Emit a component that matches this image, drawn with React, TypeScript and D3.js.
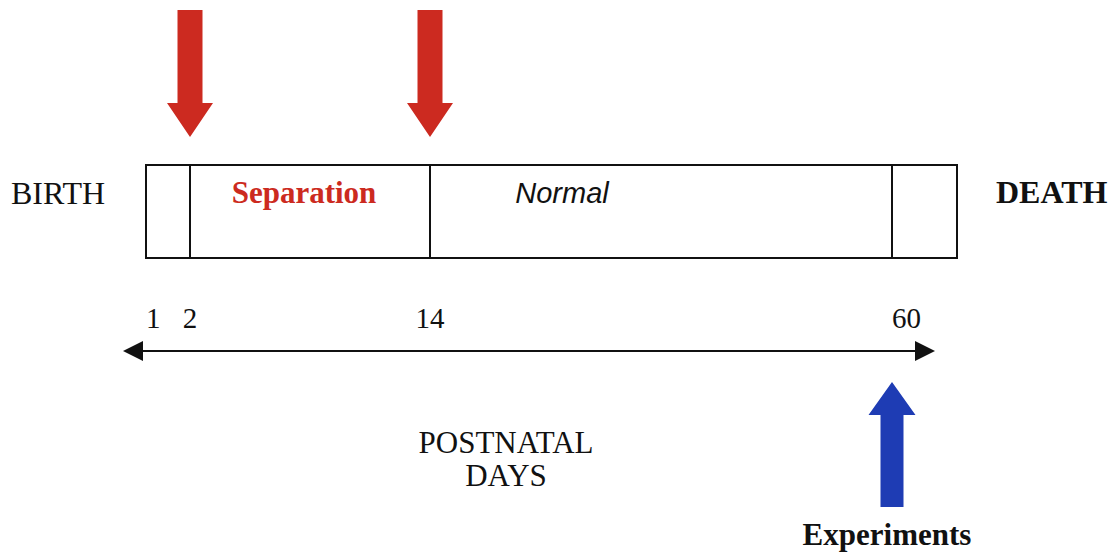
import React, { useEffect, useRef } from "react";
import * as d3 from "d3";

// Timeline data
const dayTicks = [1, 2, 14, 60];
const boxBreaks = [1, 2, 14, 60, 62];
const separationArrows = [2, 14];
const experimentDay = 60;
const phaseLabels = [
  { from: 2, to: 14, text: "Separation" },
  { from: 14, to: 60, text: "Normal" },
];

const W = 1119;
const H = 557;
const RED = "#cc2a20";
const BLUE = "#1e3cb4";
const SERIF = "'Liberation Serif', 'Times New Roman', serif";
const SANS = "'Liberation Sans', Arial, sans-serif";

export default function App() {
  const ref = useRef<SVGSVGElement | null>(null);

  useEffect(() => {
    document.body.style.margin = "0";
    const svg = d3.select(ref.current);
    svg.selectAll("*").remove();

    const x = d3.scaleLinear().domain(boxBreaks).range([146, 190, 430, 892, 957]);
    const boxTop = 165;
    const boxBottom = 258;

    // box
    svg
      .append("rect")
      .attr("x", x(boxBreaks[0]))
      .attr("y", boxTop)
      .attr("width", x(boxBreaks[boxBreaks.length - 1]) - x(boxBreaks[0]))
      .attr("height", boxBottom - boxTop)
      .attr("fill", "none")
      .attr("stroke", "#111")
      .attr("stroke-width", 2);
    svg
      .selectAll("line.div")
      .data(boxBreaks.slice(1, -1))
      .join("line")
      .attr("x1", (d) => x(d))
      .attr("x2", (d) => x(d))
      .attr("y1", boxTop)
      .attr("y2", boxBottom)
      .attr("stroke", "#111")
      .attr("stroke-width", 2);

    // phase labels
    svg
      .append("text")
      .attr("x", 304)
      .attr("y", 203)
      .attr("text-anchor", "middle")
      .attr("font-family", SERIF)
      .attr("font-weight", "bold")
      .attr("font-size", 31)
      .attr("fill", RED)
      .text(phaseLabels[0].text);
    svg
      .append("text")
      .attr("x", 562)
      .attr("y", 203)
      .attr("text-anchor", "middle")
      .attr("font-family", SANS)
      .attr("font-style", "italic")
      .attr("font-size", 29)
      .attr("fill", "#111")
      .text(phaseLabels[1].text);

    // BIRTH / DEATH
    svg
      .append("text")
      .attr("x", 11)
      .attr("y", 204)
      .attr("font-family", SERIF)
      .attr("font-size", 32)
      .attr("fill", "#111")
      .text("BIRTH");
    svg
      .append("text")
      .attr("x", 996)
      .attr("y", 203)
      .attr("font-family", SERIF)
      .attr("font-weight", "bold")
      .attr("font-size", 32)
      .attr("fill", "#111")
      .text("DEATH");

    // red arrows (down)
    const shaftW = 25;
    const headW = 46;
    const headL = 34;
    const downArrow = (cx: number, top: number, tip: number) =>
      [
        [cx - shaftW / 2, top],
        [cx + shaftW / 2, top],
        [cx + shaftW / 2, tip - headL],
        [cx + headW / 2, tip - headL],
        [cx, tip],
        [cx - headW / 2, tip - headL],
        [cx - shaftW / 2, tip - headL],
      ];
    svg
      .selectAll("polygon.red")
      .data(separationArrows)
      .join("polygon")
      .attr("points", (d) => downArrow(x(d), 10, 137).map((p) => p.join(",")).join(" "))
      .attr("fill", RED);

    // day ticks labels
    svg
      .selectAll("text.tick")
      .data(dayTicks)
      .join("text")
      .attr("x", (d) => x(d))
      .attr("y", 328)
      .attr("text-anchor", (d, i) => (i === 0 || i === dayTicks.length - 1 ? "start" : "middle"))
      .attr("font-family", SERIF)
      .attr("font-size", 29)
      .attr("fill", "#111")
      .text((d) => String(d));

    // double-headed axis arrow
    const ay = 351;
    const left = 123;
    const right = 935;
    const hl = 20;
    const hw = 10;
    svg
      .append("line")
      .attr("x1", left + hl - 2)
      .attr("x2", right - hl + 2)
      .attr("y1", ay)
      .attr("y2", ay)
      .attr("stroke", "#111")
      .attr("stroke-width", 2);
    svg
      .append("polygon")
      .attr("points", `${left},${ay} ${left + hl},${ay - hw} ${left + hl},${ay + hw}`)
      .attr("fill", "#111");
    svg
      .append("polygon")
      .attr("points", `${right},${ay} ${right - hl},${ay - hw} ${right - hl},${ay + hw}`)
      .attr("fill", "#111");

    // POSTNATAL DAYS
    svg
      .append("text")
      .attr("x", 506)
      .attr("y", 453)
      .attr("text-anchor", "middle")
      .attr("font-family", SERIF)
      .attr("font-size", 31)
      .attr("fill", "#111")
      .text("POSTNATAL");
    svg
      .append("text")
      .attr("x", 506)
      .attr("y", 486)
      .attr("text-anchor", "middle")
      .attr("font-family", SERIF)
      .attr("font-size", 31)
      .attr("fill", "#111")
      .text("DAYS");

    // blue arrow (up)
    const bx = x(experimentDay);
    const tip = 382;
    const bottom = 507;
    const bShaft = 23;
    const bHeadW = 47;
    const bHeadL = 33;
    svg
      .append("polygon")
      .attr(
        "points",
        [
          [bx, tip],
          [bx + bHeadW / 2, tip + bHeadL],
          [bx + bShaft / 2, tip + bHeadL],
          [bx + bShaft / 2, bottom],
          [bx - bShaft / 2, bottom],
          [bx - bShaft / 2, tip + bHeadL],
          [bx - bHeadW / 2, tip + bHeadL],
        ]
          .map((p) => p.join(","))
          .join(" ")
      )
      .attr("fill", BLUE);
    svg
      .append("text")
      .attr("x", 887)
      .attr("y", 545)
      .attr("text-anchor", "middle")
      .attr("font-family", SERIF)
      .attr("font-weight", "bold")
      .attr("font-size", 31)
      .attr("fill", "#111")
      .text("Experiments");
  }, []);

  return <svg ref={ref} width={W} height={H} style={{ display: "block", background: "#fff" }} />;
}
